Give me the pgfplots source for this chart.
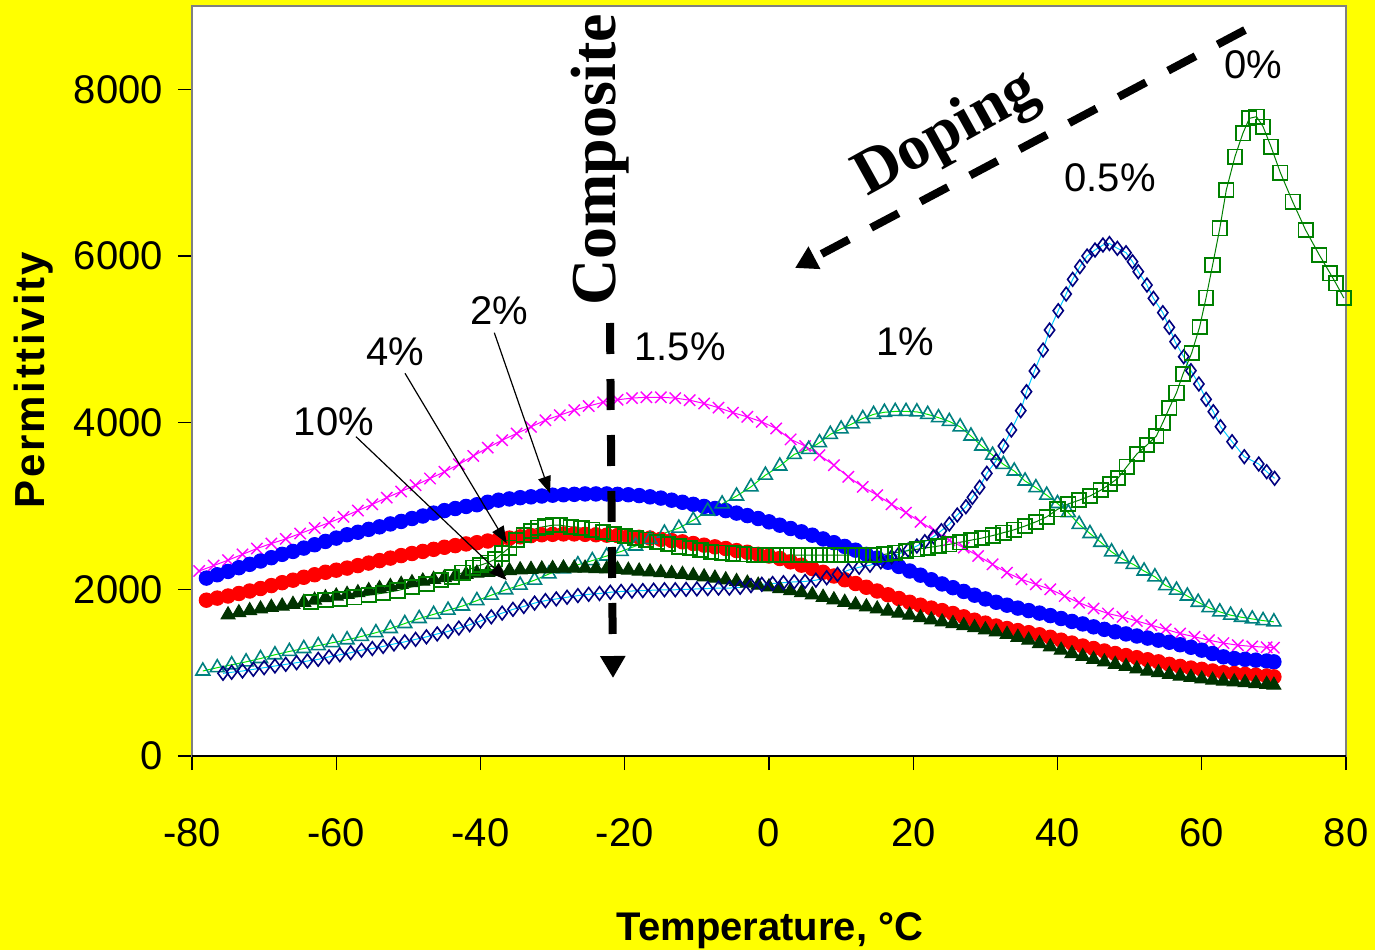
\documentclass[border=0pt]{standalone}
\usepackage{pgfplots}
\pgfplotsset{compat=1.18}
\usepackage{fontspec}
\setmainfont{Liberation Sans}
\newfontfamily\timesf{Liberation Serif}
\usetikzlibrary{arrows.meta}
\definecolor{cYel}{RGB}{255,255,0}
\definecolor{cMag}{RGB}{255,0,255}
\definecolor{cBlue}{RGB}{0,0,255}
\definecolor{cRed}{RGB}{255,0,0}
\definecolor{cDkG}{RGB}{0,51,0}
\definecolor{cDkGline}{RGB}{102,102,170}
\definecolor{cGreen}{RGB}{0,128,0}
\definecolor{cTeal}{RGB}{0,128,128}
\definecolor{cLime}{RGB}{0,230,0}
\definecolor{cNavy}{RGB}{0,0,128}
\definecolor{cCyan}{RGB}{0,204,255}
\begin{document}
\begin{tikzpicture}
\fill[cYel] (0,0) rectangle (687.5pt,475pt);
\begin{axis}[
  at={(96pt,97pt)}, anchor=south west,
  scale only axis, width=577pt, height=375pt,
  xmin=-80, xmax=80, ymin=0, ymax=9000,
  xtick={-80,-60,...,80}, ytick={0,2000,4000,6000,8000},
  scaled ticks=false,
  tick align=outside, tick pos=left, major tick length=7pt,
  tick style={black, line width=0.7pt},
  axis line style={draw=black!50, line width=1pt},
  axis background/.style={fill=white},
  ticklabel style={font=\fontsize{20}{24}\selectfont},
  /pgf/number format/assume math mode=true,
  /pgf/number format/1000 sep={},
  xticklabel style={yshift=-20.5pt},
  yticklabel style={xshift=-4pt},
]
% 1.5% magenta x
\addplot[color=cMag, line width=0.5pt, mark=x, mark size=4pt, mark options={line width=0.7pt}] table {
x y
-79 2220
-77 2285
-75 2350
-73 2420
-71 2490
-69 2550
-67 2605
-65 2670
-63 2735
-61 2800
-59 2870
-57 2945
-55 3020
-53 3100
-51 3175
-49 3250
-47 3330
-45 3410
-43 3500
-41 3600
-39 3700
-37 3790
-35 3870
-33 3950
-31 4030
-29 4090
-27 4150
-25 4200
-23 4245
-21 4275
-19 4295
-17 4305
-15 4305
-13 4295
-11 4270
-9 4230
-7 4180
-5 4120
-3 4070
-1 4010
1 3930
3 3800
5 3720
7 3610
9 3490
11 3350
13 3230
15 3130
17 3020
19 2920
21 2810
23 2700
25 2590
27 2500
29 2400
31 2300
33 2200
35 2120
37 2060
39 2000
41 1920
43 1840
45 1770
47 1710
49 1670
51 1620
53 1570
55 1520
57 1470
59 1430
61 1390
63 1355
65 1330
67 1315
69 1305
70 1300
};
% 2% blue circles
\addplot[color=cBlue, line width=0.5pt, mark=*, mark size=3.6pt] table {
x y
-78 2135
-76.5 2175
-75 2215
-73.5 2260
-72 2300
-70.5 2340
-69 2380
-67.5 2420
-66 2455
-64.5 2495
-63 2535
-61.5 2575
-60 2615
-58.5 2655
-57 2685
-55.5 2720
-54 2750
-52.5 2785
-51 2815
-49.5 2850
-48 2880
-46.5 2915
-45 2945
-43.5 2970
-42 2995
-40.5 3015
-39 3045
-37.5 3070
-36 3085
-34.5 3100
-33 3110
-31.5 3120
-30 3130
-28.5 3135
-27 3140
-25.5 3145
-24 3145
-22.5 3145
-21 3140
-19.5 3135
-18 3125
-16.5 3110
-15 3095
-13.5 3070
-12 3045
-10.5 3020
-9 2995
-7.5 2970
-6 2945
-4.5 2915
-3 2885
-1.5 2850
0 2810
1.5 2770
3 2730
4.5 2690
6 2650
7.5 2605
9 2560
10.5 2515
12 2470
13.5 2420
15 2375
16.5 2325
18 2275
19.5 2220
21 2170
22.5 2115
24 2065
25.5 2020
27 1975
28.5 1930
30 1885
31.5 1845
33 1810
34.5 1775
36 1745
37.5 1715
39 1685
40.5 1650
42 1615
43.5 1585
45 1550
46.5 1520
48 1490
49.5 1465
51 1440
52.5 1415
54 1390
55.5 1365
57 1335
58.5 1305
60 1270
61.5 1230
63 1190
64.5 1170
66 1160
67.5 1150
69 1140
70 1130
};
% 4% red circles
\addplot[color=cRed, line width=0.5pt, mark=*, mark size=3.6pt] table {
x y
-78 1870
-76.5 1895
-75 1920
-73.5 1950
-72 1980
-70.5 2010
-69 2045
-67.5 2080
-66 2110
-64.5 2145
-63 2175
-61.5 2205
-60 2230
-58.5 2255
-57 2285
-55.5 2315
-54 2345
-52.5 2375
-51 2405
-49.5 2430
-48 2455
-46.5 2480
-45 2505
-43.5 2525
-42 2545
-40.5 2560
-39 2580
-37.5 2600
-36 2615
-34.5 2630
-33 2645
-31.5 2655
-30 2660
-28.5 2665
-27 2665
-25.5 2660
-24 2655
-22.5 2650
-21 2645
-19.5 2635
-18 2625
-16.5 2615
-15 2600
-13.5 2585
-12 2570
-10.5 2550
-9 2530
-7.5 2510
-6 2490
-4.5 2465
-3 2445
-1.5 2420
0 2400
1.5 2370
3 2330
4.5 2290
6 2250
7.5 2205
9 2160
10.5 2115
12 2070
13.5 2025
15 1980
16.5 1935
18 1890
19.5 1845
21 1810
22.5 1775
24 1745
25.5 1710
27 1670
28.5 1630
30 1595
31.5 1560
33 1530
34.5 1505
36 1480
37.5 1455
39 1425
40.5 1390
42 1355
43.5 1320
45 1290
46.5 1260
48 1230
49.5 1205
51 1180
52.5 1155
54 1130
55.5 1100
57 1075
58.5 1055
60 1040
61.5 1020
63 1000
64.5 990
66 980
67.5 970
69 960
70 950
};
% 1% teal open triangles
\addplot[color=cLime, line width=0.5pt, mark=triangle, mark size=4pt, mark options={draw=cTeal, line width=0.8pt}] table {
x y
-78.5 1020
-76.5 1060
-74.5 1095
-72.5 1130
-70.5 1170
-68.5 1215
-66.5 1255
-64.5 1290
-62.5 1325
-60.5 1360
-58.5 1395
-56.5 1435
-54.5 1480
-52.5 1530
-50.5 1590
-48.5 1650
-46.5 1700
-44.5 1750
-42.5 1800
-40.5 1865
-38.5 1930
-36.5 1995
-34.5 2050
-32.5 2110
-30.5 2185
-28.5 2245
-26.5 2295
-24.5 2345
-22.5 2400
-20.5 2455
-18.5 2520
-16.5 2600
-14.5 2675
-12.5 2735
-10.5 2830
-8.5 2940
-6.5 3025
-4.5 3120
-2.5 3230
-0.5 3370
1.5 3480
3.5 3620
5.5 3680
7 3760
8.5 3860
10 3925
11.5 3985
13 4050
14.5 4100
16 4125
17.5 4135
19 4135
20.5 4130
22 4100
23.5 4060
25 4015
26.5 3950
28 3840
29.5 3720
31 3610
32.5 3500
34 3420
35.5 3300
37 3220
38.5 3130
40 3030
41.5 2920
43 2780
44.5 2670
46 2565
47.5 2450
49 2365
50.5 2300
52 2220
53.5 2150
55 2045
56.5 1990
58 1920
59.5 1845
61 1780
62.5 1730
64 1690
65.5 1665
67 1645
68.5 1625
70 1610
};
% 10% dark green filled triangles
\addplot[color=cDkGline, line width=0.5pt, mark=triangle*, mark size=4pt, mark options={draw=cDkG, fill=cDkG}] table {
x y
-75 1695
-73.5 1720
-72 1745
-70.5 1765
-69 1785
-67.5 1800
-66 1820
-64.5 1845
-63 1870
-61.5 1900
-60 1920
-58.5 1940
-57 1960
-55.5 1985
-54 2010
-52.5 2035
-51 2060
-49.5 2080
-48 2100
-46.5 2120
-45 2140
-43.5 2160
-42 2180
-40.5 2195
-39 2205
-37.5 2215
-36 2225
-34.5 2235
-33 2240
-31.5 2245
-30 2250
-28.5 2255
-27 2255
-25.5 2255
-24 2250
-22.5 2245
-21 2240
-19.5 2230
-18 2220
-16.5 2210
-15 2200
-13.5 2190
-12 2180
-10.5 2165
-9 2150
-7.5 2135
-6 2115
-4.5 2095
-3 2075
-1.5 2050
0 2030
1.5 2010
3 1985
4.5 1960
6 1935
7.5 1905
9 1875
10.5 1845
12 1815
13.5 1790
15 1765
16.5 1740
18 1715
19.5 1690
21 1660
22.5 1635
24 1610
25.5 1590
27 1565
28.5 1540
30 1515
31.5 1490
33 1460
34.5 1425
36 1390
37.5 1350
39 1310
40.5 1270
42 1230
43.5 1195
45 1160
46.5 1130
48 1100
49.5 1075
51 1045
52.5 1020
54 1000
55.5 980
57 960
58.5 945
60 925
61.5 910
63 900
64.5 890
66 880
67.5 870
69 860
70 850
};
% 0.5% navy diamonds
\addplot[color=cCyan, line width=0.5pt, mark=diamond, mark size=3.4pt, mark options={draw=cNavy, line width=0.8pt}] table {
x y
-75.7 992
-74.5 1005
-73 1020
-71.5 1040
-70 1060
-68.5 1080
-67 1100
-65.5 1120
-64 1140
-62.5 1160
-61 1190
-59.5 1215
-58 1240
-56.5 1270
-55 1290
-53.5 1315
-52 1345
-50.5 1370
-49 1400
-47.5 1430
-46 1465
-44.5 1495
-43 1535
-41.5 1575
-40 1620
-38.5 1670
-37 1715
-35.5 1760
-34 1795
-32.5 1835
-31 1865
-29.5 1885
-28 1905
-26.5 1925
-25 1940
-23.5 1950
-22 1965
-20.5 1975
-19 1980
-17.5 1985
-16 1990
-14.5 1995
-13 1995
-11.5 2000
-10 2005
-8.5 2010
-7 2015
-5.5 2015
-4 2025
-2.5 2045
-1 2060
0.5 2070
2 2080
3.5 2090
5 2095
6.5 2110
8 2140
9.5 2180
11 2230
12.5 2265
14 2290
15.5 2330
17 2390
18 2424
19.3 2472
20.5 2520
21.6 2572
22.8 2632
23.9 2704
25 2784
26.1 2892
27.3 2992
28.2 3104
29.2 3224
30.2 3392
31.5 3544
32.5 3720
33.6 3912
34.9 4144
35.7 4372
36.8 4620
38 4872
38.9 5112
40.1 5344
41.2 5544
42.1 5720
43.1 5872
44.1 6000
45.2 6072
46.3 6132
47.2 6150
48.3 6092
49.5 6040
50.4 5932
51.2 5812
52.4 5652
53.3 5492
54.6 5320
55.5 5144
56.3 4972
57.5 4792
58.5 4624
59.6 4464
60.6 4280
61.6 4132
62.6 3952
64.2 3772
65.9 3592
67.9 3504
69 3412
70.1 3332
};
% 0% green open squares
\addplot[color=cGreen, line width=0.5pt, mark=square, mark size=3.6pt, mark options={line width=0.9pt}] table {
x y
-63.5 1850
-61.5 1870
-59.5 1885
-57.5 1905
-55.5 1930
-53.5 1955
-51.5 1985
-49.5 2030
-47.5 2065
-45.5 2110
-44 2150
-42.5 2200
-41 2260
-40 2290
-39 2320
-38 2360
-37 2430
-36 2500
-35 2590
-34 2650
-33 2700
-32 2740
-31 2755
-30 2770
-29 2770
-27.5 2750
-26 2735
-24.5 2715
-23 2690
-21.5 2660
-20 2640
-18.5 2615
-17 2595
-15.5 2570
-14 2545
-12.5 2515
-11 2495
-9.5 2470
-8 2450
-6.5 2440
-5 2430
-3.5 2420
-2 2415
-0.5 2412
1 2410
2.5 2410
4 2410
5.5 2410
7 2410
8.5 2410
10 2410
11.5 2410
13 2410
14.5 2412
16 2420
17.5 2440
19 2460
20.5 2480
22 2500
23.5 2520
25 2540
26.5 2565
28 2590
29.5 2615
31 2645
32.5 2680
34 2715
35.5 2760
37 2810
38.5 2870
40 2960
41.5 3025
43 3070
44.5 3120
46 3190
47.3 3264
48.4 3336
49.6 3472
51 3624
52.4 3732
53.7 3840
54.6 4000
55.5 4176
56.5 4360
57.4 4584
58.6 4836
59.7 5148
60.6 5500
61.5 5890
62.5 6332
63.4 6792
64.6 7192
65.7 7472
66.6 7652
67.6 7672
68.5 7552
69.6 7312
70.9 7000
72.6 6652
74.4 6312
76.3 6012
77.8 5792
78.6 5672
79.7 5496
};
\draw[black, line width=1pt] (rel axis cs:0,0) -- (rel axis cs:1,0);
\end{axis}
% axis titles
\node[font=\fontsize{20}{24}\selectfont\bfseries, anchor=base] at (385pt,5pt) {Temperature, °C};
\node[font=\fontsize{21}{24}\selectfont\bfseries\addfontfeature{LetterSpace=6}, rotate=90, anchor=center] at (17pt,285pt) {Permittivity};
% annotations
\node[font=\timesf\fontsize{32}{36}\selectfont\bfseries, rotate=90, anchor=center, inner sep=0pt] at (300pt,395pt) {Composite};
\draw[line width=4pt, dash pattern=on 15.5pt off 12.5pt, -{Triangle[length=11pt,width=12pt]}] (305pt,313.5pt) -- (306.5pt,136pt);
\node[font=\timesf\fontsize{32}{36}\selectfont\bfseries, rotate=29, anchor=center, inner sep=0pt] at (473.5pt,407.5pt) {Doping};
\draw[line width=4pt, dash pattern=on 15.5pt off 12.5pt, -{Triangle[length=11pt,width=12pt]}] (622.5pt,460pt) -- (397.5pt,341pt);
\begin{scope}[every node/.style={font=\fontsize{20}{24}\selectfont, anchor=center, inner sep=0pt}]
\node at (626.5pt,442.5pt) {0\%};
\node at (555pt,386pt) {0.5\%};
\node at (452.5pt,304pt) {1\%};
\node at (340pt,301.5pt) {1.5\%};
\node at (249.5pt,319.5pt) {2\%};
\node at (197.5pt,299pt) {4\%};
\node at (167pt,264pt) {10\%};
\end{scope}
\begin{scope}[line width=0.6pt, -{Triangle[length=8.5pt,width=6.5pt]}]
\draw (247.15pt,308.65pt) -- (275pt,228.35pt);
\draw (202.5pt,288.35pt) -- (253.35pt,203.35pt);
\draw (178pt,256.65pt) -- (253.35pt,185pt);
\end{scope}
\pgfresetboundingbox
\path (0,0) rectangle (687.5pt,475pt);
\end{tikzpicture}
\end{document}
